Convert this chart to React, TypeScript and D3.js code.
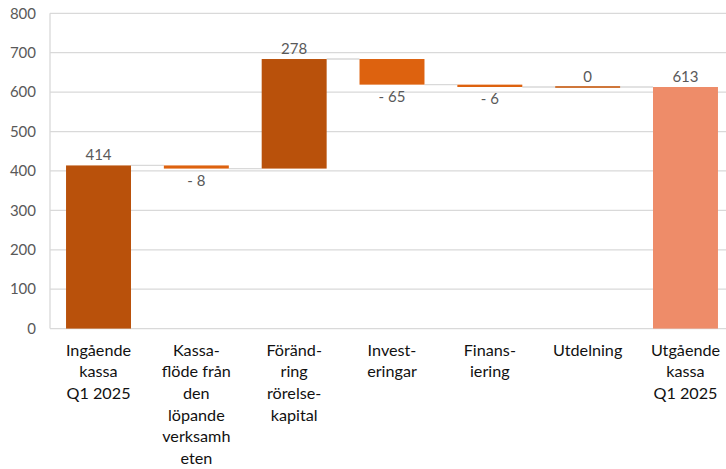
import React from "react";
import * as d3 from "d3";

const categories: string[][] = [
  ["Ingående", "kassa", "Q1 2025"],
  ["Kassa-", "flöde från", "den", "löpande", "verksamh", "eten"],
  ["Föränd-", "ring", "rörelse-", "kapital"],
  ["Invest-", "eringar"],
  ["Finans-", "iering"],
  ["Utdelning"],
  ["Utgående", "kassa", "Q1 2025"],
];
const changes: number[] = [414, -8, 278, -65, -6, 0, 613];
const kinds: string[] = ["total", "change", "change", "change", "change", "change", "total"];
const yTicks: number[] = [0, 100, 200, 300, 400, 500, 600, 700, 800];

const W = 726;
const H = 469;
const FONT = "Lato, 'Open Sans', sans-serif";

export default function App() {
  const x = d3
    .scaleBand<number>()
    .domain(changes.map((_, i) => i))
    .range([49.6, 734.4])
    .paddingInner(0.336)
    .paddingOuter(0.168);
  const y = d3.scaleLinear().domain([0, 800]).range([328.6, 13.3]);

  let running = 0;
  const segs = changes.map((v, i) => {
    let start: number, end: number;
    if (kinds[i] === "total") {
      start = 0;
      end = v;
      running = v;
    } else {
      start = running;
      end = running + v;
      running = end;
    }
    return { start, end, v, i };
  });

  const colorFor = (i: number) => {
    if (i === 0 || i === 2) return "#B9510B";
    if (i === 6) return "#EE8C69";
    if (i === 5) return "#C4560B";
    return "#DD620F";
  };

  const bw = x.bandwidth();

  return (
    <svg width={W} height={H} style={{ position: "absolute", left: 0, top: 0, overflow: "hidden" }}>
      <rect x={0} y={0} width={W} height={H} fill="#fff" />
      {yTicks.map((t) => (
        <line key={t} x1={50} x2={W} y1={y(t)} y2={y(t)} stroke="#D9D9D9" strokeWidth={1.3} />
      ))}
      <line x1={50} x2={50} y1={y(800)} y2={y(0)} stroke="#D9D9D9" strokeWidth={1.3} />
      {yTicks.map((t) => (
        <text
          key={"t" + t}
          x={36}
          y={y(t)}
          dy="0.35em"
          textAnchor="end"
          fontFamily={FONT}
          fontSize={15}
          fill="#595959"
        >
          {t}
        </text>
      ))}
      {segs.slice(0, -1).map((s, i) => (
        <line
          key={"c" + i}
          x1={(x(i) as number) + bw}
          x2={x(i + 1) as number}
          y1={y(s.end)}
          y2={y(s.end)}
          stroke="#D9D9D9"
          strokeWidth={1.3}
        />
      ))}
      {segs.map((s) => {
        const top = y(Math.max(s.start, s.end));
        const bot = y(Math.min(s.start, s.end));
        const h = Math.max(bot - top, 1.6);
        return (
          <rect
            key={"b" + s.i}
            x={x(s.i) as number}
            y={s.v === 0 ? top - 0.8 : top}
            width={bw}
            height={h}
            fill={colorFor(s.i)}
          />
        );
      })}
      {segs.map((s) => {
        const cx = (x(s.i) as number) + bw / 2;
        const neg = s.v < 0;
        const ly = neg ? y(s.end) + 17 : y(Math.max(s.start, s.end)) - 5;
        const label = neg ? "- " + Math.abs(s.v) : String(s.v);
        return (
          <text
            key={"l" + s.i}
            x={cx}
            y={ly}
            textAnchor="middle"
            fontFamily={FONT}
            fontSize={15}
            fill="#595959"
          >
            {label}
          </text>
        );
      })}
      {categories.map((lines, i) => (
        <text
          key={"x" + i}
          x={(x(i) as number) + bw / 2}
          textAnchor="middle"
          fontFamily={FONT}
          fontSize={16.2}
          fill="#111"
        >
          {lines.map((ln, j) => (
            <tspan key={j} x={(x(i) as number) + bw / 2} y={355.5 + j * 21.7}>
              {ln}
            </tspan>
          ))}
        </text>
      ))}
    </svg>
  );
}
